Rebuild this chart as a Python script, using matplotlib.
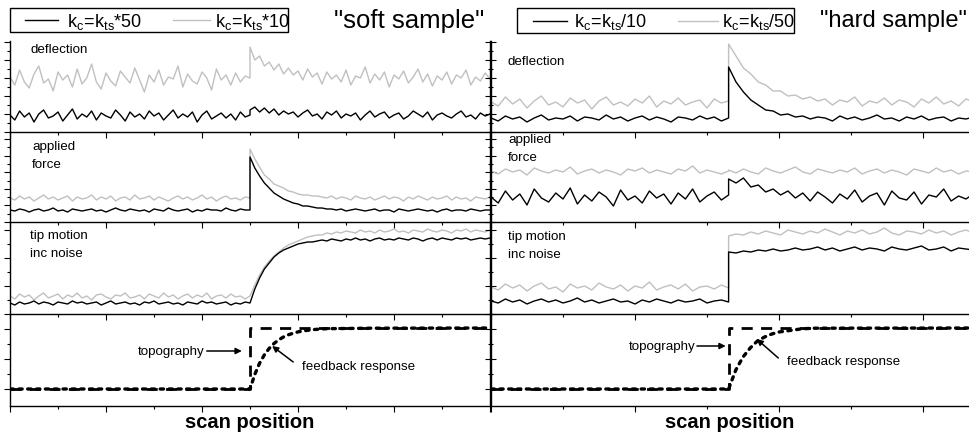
import numpy as np
import matplotlib
matplotlib.use('Agg')
import matplotlib.pyplot as plt
from matplotlib.ticker import MultipleLocator, FixedLocator
from matplotlib.lines import Line2D
from matplotlib.patches import Rectangle

plt.rcParams['font.family'] = ['Liberation Sans', 'DejaVu Sans']
plt.rcParams['mathtext.fontset'] = 'custom'
plt.rcParams['mathtext.rm'] = 'Liberation Sans'
plt.rcParams['mathtext.it'] = 'Liberation Sans'
plt.rcParams['mathtext.bf'] = 'Liberation Sans:bold'

# ---------------- data ----------------
panel_labels = ["deflection", "applied\nforce", "tip motion\ninc noise", ""]
soft_legend = [r"$\mathregular{k_c\!=\!k_{ts}{*}50}$", r"$\mathregular{k_c\!=\!k_{ts}{*}10}$"]
hard_legend = [r"$\mathregular{k_c\!=\!k_{ts}/10}$", r"$\mathregular{k_c\!=\!k_{ts}/50}$"]
titles = ['"soft sample"', '"hard sample"']
xlabel = "scan position"

soft_step, soft_end = 5.0, 10.0
hard_step, hard_end = 3.3, 6.7

# soft sample (left column)
soft_defl_black_pre = [17,12,21,15,19,10,18,22,14,16,20,11,17,23,13,18,15,21,12,19,16,14,22,17,11,20,15,18,13,21,16,19,12,17,22,14,18,15,20,10,17,21,13,16,19,14,18,12,20,15,17]
soft_defl_black_post = [22,25,20,24,19,23,17,21,18,20,15,19,22,16,18,13,20,17,21,14,18,16,19,12,17,21,15,18,20,14,17,19,13,16,21,18,15,20,12,17,19,16,14,18,21,15,17,13,19,16,18]
soft_defl_gray_pre = [55,47,62,50,44,58,66,49,53,41,60,52,57,45,63,48,54,68,50,43,59,51,46,61,55,49,64,52,40,57,50,62,47,55,53,66,45,58,51,48,60,54,42,63,52,57,47,59,50,56,54]
soft_defl_gray_post = [85,72,76,66,70,62,68,58,64,57,61,52,63,55,59,48,60,53,57,50,62,47,56,54,65,49,58,52,60,45,57,53,61,49,55,63,50,58,46,56,52,60,48,57,54,62,47,55,51,59,53]

soft_force_black_pre = [12,11,13,12,10,12,13,11,12,14,11,12,10,13,12,11,12,13,11,12,10,12,14,12,11,13,12,11,12,10,13,12,11,14,12,11,12,13,10,12,11,13,12,12,11,14,12,11,13,12,12]
soft_force_black_post = [65,54,46,39,34,29,26,23,21,19,18,16,16,15,14,14,13,13,12,13,11,12,13,12,11,12,13,11,12,12,10,13,12,11,12,13,12,11,12,10,12,13,11,12,12,11,13,12,11,12,12]
soft_force_gray_pre = [24,22,26,23,25,21,24,27,23,25,22,24,26,21,25,23,24,27,22,25,23,26,21,24,25,22,27,23,24,26,22,25,23,21,24,26,23,25,22,24,27,23,25,21,24,26,23,24,22,25,24]
soft_force_gray_post = [73,63,55,47,43,38,36,34,31,30,28,27,27,26,26,25,24,26,23,25,24,22,26,24,23,25,22,24,26,23,25,24,21,25,23,26,24,22,25,23,24,26,22,25,23,24,21,25,24,23,25]

soft_tip_black_pre = [11,9,12,10,11,13,10,12,11,9,12,11,10,13,11,12,10,11,12,9,11,13,10,11,12,10,11,9,12,11,13,10,11,12,10,11,9,12,11,10,13,11,12,10,11,12,9,11,10,12,11]
soft_tip_black_post = [11,25,36,45,51,57,61,64,66,68,70,71,72,72,73,74,73,75,74,73,75,74,76,74,75,73,75,76,74,75,74,76,75,74,76,75,73,75,76,74,76,75,74,76,75,76,74,75,76,75,76]
soft_tip_gray_pre = [18,15,20,17,19,14,18,21,16,18,20,15,19,17,21,16,18,14,19,20,17,15,19,18,21,16,17,19,15,20,18,16,21,17,19,15,18,20,16,19,17,21,15,18,19,16,20,17,18,15,18]
soft_tip_gray_post = [18,29,39,47,53,58,62,66,69,71,73,75,77,78,79,79,81,80,82,81,83,82,81,84,82,83,81,84,82,83,85,82,83,81,84,83,82,85,83,82,84,83,81,84,83,85,82,84,83,82,84]

soft_topo_x = [0, 5.0, 5.0, 10.0]
soft_topo_y = [17, 17, 78, 78]
soft_resp_x = [0, 5.0, 5.1, 5.2, 5.3, 5.4, 5.5, 5.6, 5.7, 5.8, 5.9, 6.0, 6.1, 6.2, 6.3, 6.4, 6.5, 6.6, 7.5, 10.0]
soft_resp_y = [17, 17, 31.6, 42.8, 51.2, 57.6, 62.5, 66.2, 69.1, 71.2, 72.8, 74.1, 75, 75.7, 76.3, 76.7, 77, 77.3, 77.8, 78]

# hard sample (right column)
hard_defl_black_pre = [14,11,16,13,15,10,14,17,12,14,13,16,11,15,14,12,17,13,15,11,14,16,12,15,13,10,15,14,12,16,13,15,11,14]
hard_defl_black_post = [65,50,40,32,27,22,21,17,18,15,16,13,15,14,11,16,13,15,12,14,17,13,14,11,15,13,16,12,14,15,11,14,13,15]
hard_defl_gray_pre = [30,26,35,28,33,24,31,36,27,30,25,34,29,32,23,31,35,27,30,26,33,29,36,25,31,28,34,27,30,32,24,33,29,31]
hard_defl_gray_post = [88,76,64,58,50,47,41,41,36,37,33,35,31,33,27,32,30,35,26,31,29,34,27,32,30,25,33,29,35,28,31,26,33,30]

hard_force_black_pre = [25,19,31,22,28,17,33,24,20,29,23,34,18,27,21,30,25,16,32,22,26,19,31,24,28,18,29,23,33,20,26,30,22,27]
hard_force_black_post = [43,39,44,35,37,30,33,27,31,24,29,21,30,25,19,28,23,32,20,26,29,17,31,24,22,30,18,27,25,33,21,26,23,28]
hard_force_gray_pre = [51,48,53,50,52,47,54,51,49,52,50,55,48,51,53,49,52,50,47,53,51,54,49,52,50,48,53,51,56,49,52,50,48,51]
hard_force_gray_post = [52,49,53,50,48,54,51,49,52,55,50,48,53,51,49,52,50,54,48,51,53,49,52,50,47,53,51,49,54,50,52,48,51,50]

hard_tip_black_pre = [13,11,15,12,14,10,13,15,12,14,11,13,16,12,14,11,13,15,12,13,10,14,12,15,13,11,14,12,13,15,11,13,14,12]
hard_tip_black_post = [62,61,63,62,64,63,65,63,64,66,64,65,67,64,66,63,65,67,64,66,65,63,67,65,64,66,68,64,65,67,63,66,65,64]
hard_tip_gray_pre = [27,24,30,26,29,23,28,31,25,27,22,30,26,28,24,31,27,25,29,23,28,26,32,24,27,29,25,30,23,27,28,25,29,26]
hard_tip_gray_post = [78,80,79,82,80,83,81,79,84,82,80,83,81,85,82,79,83,81,84,80,82,86,81,79,83,82,80,84,81,83,79,82,84,81]

hard_topo_x = [0, 3.3, 3.3, 6.7]
hard_topo_y = [17, 17, 78, 78]
hard_resp_x = [0, 3.3, 3.4, 3.5, 3.6, 3.7, 3.8, 3.9, 4.0, 4.1, 4.2, 4.3, 4.4, 4.5, 6.7]
hard_resp_y = [17, 17, 36, 49, 58, 65, 69, 72, 74, 75, 76, 77, 77.5, 77.8, 78]

# ---------------- layout ----------------
W, H = 970, 435
fig = plt.figure(figsize=(W / 100, H / 100), dpi=100)

def fx(x):
    return x / W

def fy(y):
    return 1 - y / H

rows = [(42, 133), (133, 223), (223, 315), (315, 407)]
cols = [(10, 490), (491, 975)]
BLACK = '#000000'
GRAY = '#c0c0c0'

def join(pre, post, step, end):
    x = np.concatenate([np.linspace(0, step, len(pre)), np.linspace(step, end, len(post))])
    y = np.concatenate([np.asarray(pre, float), np.asarray(post, float)])
    return x, y

columns = [
    dict(step=soft_step, end=soft_end, xlim=(0, 10.0),
         traces=[(soft_defl_gray_pre, soft_defl_gray_post, soft_defl_black_pre, soft_defl_black_post),
                 (soft_force_gray_pre, soft_force_gray_post, soft_force_black_pre, soft_force_black_post),
                 (soft_tip_gray_pre, soft_tip_gray_post, soft_tip_black_pre, soft_tip_black_post)],
         topo=(soft_topo_x, soft_topo_y), resp=(soft_resp_x, soft_resp_y),
         label_x=[31, 32, 30], label_y=[51, 148, 237],
         topo_ann=dict(text_xy=(4.06, 55), tip=(4.83, 55), start=(4.1, 55)),
         fb_ann=dict(text_xy=(6.08, 40), tip=(5.46, 60), start=(5.9, 44))),
    dict(step=hard_step, end=hard_end, xlim=(0, (975 - 491) / 72.0),
         traces=[(hard_defl_gray_pre, hard_defl_gray_post, hard_defl_black_pre, hard_defl_black_post),
                 (hard_force_gray_pre, hard_force_gray_post, hard_force_black_pre, hard_force_black_post),
                 (hard_tip_gray_pre, hard_tip_gray_post, hard_tip_black_pre, hard_tip_black_post)],
         topo=(hard_topo_x, hard_topo_y), resp=(hard_resp_x, hard_resp_y),
         label_x=[508, 508, 508], label_y=[63, 141, 238],
         topo_ann=dict(text_xy=(2.84, 60), tip=(3.26, 60), start=(2.86, 60)),
         fb_ann=dict(text_xy=(4.11, 45), tip=(3.69, 67), start=(3.99, 48))),
]

ytick_cfg = [(18, 9), (16.6, 8.3), (28, 14), None]
label_fs = 9.6

for ci, col in enumerate(columns):
    cx0, cx1 = cols[ci]
    for ri, (ry0, ry1) in enumerate(rows):
        ax = fig.add_axes([fx(cx0), fy(ry1), fx(cx1 - cx0), (ry1 - ry0) / H])
        ax.set_xlim(*col['xlim'])
        ax.set_ylim(0, ry1 - ry0)
        ax.patch.set_alpha(0)
        ax.spines['top'].set_visible(False)
        for s in ax.spines.values():
            s.set_linewidth(1.0)
        if ci == 1:
            ax.spines['right'].set_visible(False)
        ax.xaxis.set_major_locator(MultipleLocator(2))
        ax.xaxis.set_minor_locator(MultipleLocator(1))
        if ytick_cfg[ri] is not None:
            ax.yaxis.set_major_locator(MultipleLocator(ytick_cfg[ri][0]))
            ax.yaxis.set_minor_locator(MultipleLocator(ytick_cfg[ri][1]))
        else:
            ax.yaxis.set_major_locator(FixedLocator([17, 47, 77]))
            ax.yaxis.set_minor_locator(FixedLocator([32, 62]))
        ax.tick_params(axis='both', which='both', direction='out', labelbottom=False,
                       labelleft=False, labelright=False, top=False, width=0.8)
        ax.tick_params(which='major', length=4)
        ax.tick_params(which='minor', length=2.5)
        if ci == 0:
            ax.tick_params(axis='y', which='both', left=True, right=True)
        else:
            ax.tick_params(axis='y', which='both', left=True, right=False)

        if ri < 3:
            gpre, gpost, bpre, bpost = col['traces'][ri]
            xg, yg = join(gpre, gpost, col['step'], col['end'])
            xb, yb = join(bpre, bpost, col['step'], col['end'])
            ax.plot(xg, yg, color=GRAY, lw=1.0, clip_on=True)
            ax.plot(xb, yb, color=BLACK, lw=1.0, clip_on=True)
            ax.text(fx(col['label_x'][ri]), fy(col['label_y'][ri] - 7), panel_labels[ri],
                    transform=fig.transFigure, fontsize=label_fs, ha='left', va='top',
                    linespacing=1.62)
        else:
            tx, ty = col['topo']
            rx, ry = col['resp']
            ax.plot(tx, ty, color=BLACK, lw=2.0, dashes=(4, 3))
            ax.plot(rx, ry, color=BLACK, lw=2.4, linestyle=':', dash_capstyle='round')
            ta = col['topo_ann']
            ax.text(ta['text_xy'][0], ta['text_xy'][1], "topography", fontsize=label_fs,
                    ha='right', va='center')
            ax.annotate('', xy=ta['tip'], xytext=ta['start'],
                        arrowprops=dict(arrowstyle='-|>', lw=1.1, color='k', mutation_scale=9,
                                        shrinkA=0, shrinkB=0))
            fa = col['fb_ann']
            ax.text(fa['text_xy'][0], fa['text_xy'][1], "feedback response", fontsize=label_fs,
                    ha='left', va='center')
            ax.annotate('', xy=fa['tip'], xytext=fa['start'],
                        arrowprops=dict(arrowstyle='-|>', lw=1.1, color='k', mutation_scale=9,
                                        shrinkA=0, shrinkB=0))

# legends (drawn by hand)
leg_specs = [
    dict(box=(10, 9, 288, 33), l1=(25, 58), t1=67, l2=(173, 210), t2=215, texts=soft_legend),
    dict(box=(517, 9, 794, 34), l1=(533, 567), t1=574, l2=(678, 718), t2=722, texts=hard_legend),
]
for spec in leg_specs:
    x0, y0, x1, y1 = spec['box']
    fig.add_artist(Rectangle((fx(x0), fy(y1)), fx(x1 - x0), (y1 - y0) / H,
                             transform=fig.transFigure, fill=False, lw=1.0, ec='k'))
    ym = (y0 + y1) / 2
    fig.add_artist(Line2D([fx(spec['l1'][0]), fx(spec['l1'][1])], [fy(ym), fy(ym)],
                          transform=fig.transFigure, color=BLACK, lw=1.0))
    fig.add_artist(Line2D([fx(spec['l2'][0]), fx(spec['l2'][1])], [fy(ym), fy(ym)],
                          transform=fig.transFigure, color=GRAY, lw=1.0))
    fig.text(fx(spec['t1']), fy(ym + 1), spec['texts'][0], fontsize=13, ha='left', va='center')
    fig.text(fx(spec['t2']), fy(ym + 1), spec['texts'][1], fontsize=13, ha='left', va='center')

fig.text(fx(334), fy(21), titles[0], fontsize=18.5, ha='left', va='center')
fig.text(fx(820), fy(21), titles[1], fontsize=17, ha='left', va='center')

fig.text(fx(250), fy(428), xlabel, fontsize=14.5, fontweight='bold', ha='center', va='baseline')
fig.text(fx(730), fy(428), xlabel, fontsize=14.5, fontweight='bold', ha='center', va='baseline')

fig.savefig('out.png', dpi=100)
